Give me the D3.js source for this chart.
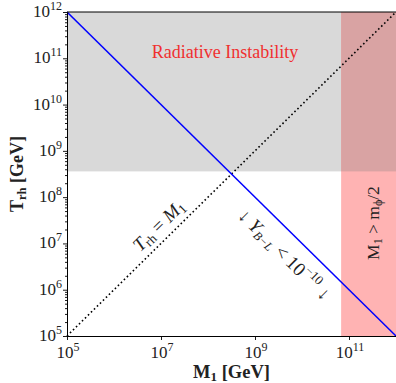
<!DOCTYPE html>
<html>
<head>
<meta charset="utf-8">
<script src="https://cdn.jsdelivr.net/npm/d3@7"></script>
<style>
  body { margin: 0; background: #fff; }
</style>
</head>
<body>
<svg id="chart" width="396" height="383"></svg>
<script>
// axis extents and ticks
var massDomain = [1e5, 1e12];
var tempDomain = [1e5, 1e12];
var xTickExp = [5, 7, 9, 11];
var yTickExp = [5, 6, 7, 8, 9, 10, 11, 12];

// shaded regions
var instabilityT = 3.6e8;   // lower edge of the radiative instability band
var kinematicM = 6.8e10;    // M1 > m_phi/2 starts here

// lines
var diagM = [1e5, 1e12];
var diagT = [1e5, 1e12];
var washoutM = [1e5, 1e12];
var washoutT = [1e12, 1e5];

var FONT = "'Liberation Serif', 'DejaVu Serif', 'Times New Roman', serif";

var svg = d3.select("#chart");
var margin = {left: 67, top: 12, right: 0, bottom: 47};
var W = 396, H = 383;

var x = d3.scaleLog().domain(massDomain).range([margin.left, W - margin.right]);
var y = d3.scaleLog().domain(tempDomain).range([H - margin.bottom, margin.top]);

var x0 = x.range()[0], x1 = x.range()[1], y0 = y.range()[0], y1 = y.range()[1];

// regions
svg.append("rect")
  .attr("x", x0).attr("y", y1)
  .attr("width", x1 - x0).attr("height", y(instabilityT) - y1)
  .attr("fill", "#d9d9d9");
svg.append("rect")
  .attr("x", x(kinematicM)).attr("y", y1)
  .attr("width", x1 - x(kinematicM)).attr("height", y0 - y1)
  .attr("fill", "#ffb3b3");
svg.append("rect")
  .attr("x", x(kinematicM)).attr("y", y1)
  .attr("width", x1 - x(kinematicM)).attr("height", y(instabilityT) - y1)
  .attr("fill", "#d9a3a3");

var line = d3.line().x(function(d) { return x(d[0]); }).y(function(d) { return y(d[1]); });

svg.append("path")
  .attr("d", line(d3.zip(diagM, diagT)))
  .attr("fill", "none").attr("stroke", "#000")
  .attr("stroke-width", 1.6).attr("stroke-dasharray", "1.6,2.6");

svg.append("path")
  .attr("d", line(d3.zip(washoutM, washoutT)))
  .attr("fill", "none").attr("stroke", "#0000ff")
  .attr("stroke-width", 1.6);

// axes
svg.append("g").attr("transform", "translate(0," + y0 + ")")
  .call(d3.axisBottom(x).tickValues(xTickExp.map(function(e) { return Math.pow(10, e); }))
    .tickFormat("").tickSize(4).tickSizeOuter(0));
var minorY = [];
for (var e = 5; e < 12; e++) for (var k = 2; k < 10; k++) minorY.push(k * Math.pow(10, e));
svg.append("g").attr("transform", "translate(" + x0 + ",0)")
  .call(d3.axisLeft(y).tickValues(minorY).tickFormat("").tickSize(2).tickSizeOuter(0));
svg.append("g").attr("transform", "translate(" + x0 + ",0)")
  .call(d3.axisLeft(y).tickValues(yTickExp.map(function(e) { return Math.pow(10, e); }))
    .tickFormat("").tickSize(4).tickSizeOuter(0));
svg.selectAll(".domain").attr("stroke", "#000").attr("stroke-width", 1);
svg.selectAll(".tick line").attr("stroke", "#000").attr("stroke-width", 0.9);

// frame top
svg.append("line").attr("x1", x0).attr("x2", x1).attr("y1", y1).attr("y2", y1)
  .attr("stroke", "#000").attr("stroke-width", 1);

function label(sel) {
  return sel.append("text").style("font-family", FONT).attr("fill", "#222");
}

// tick labels
xTickExp.forEach(function(e) {
  var t = label(svg).attr("x", x(Math.pow(10, e)) + 1).attr("y", y0 + 22)
    .attr("text-anchor", "middle").attr("font-size", 17);
  t.append("tspan").text("10");
  t.append("tspan").attr("dy", -7).attr("font-size", 12).text(e);
});
yTickExp.forEach(function(e) {
  var t = label(svg).attr("x", x0 - 5).attr("y", y(Math.pow(10, e)) + 5)
    .attr("text-anchor", "end").attr("font-size", 17);
  t.append("tspan").text("10");
  t.append("tspan").attr("dy", -7).attr("font-size", 12).text(e);
});

// axis titles
var xl = label(svg).attr("x", (x0 + x1) / 2).attr("y", 378)
  .attr("text-anchor", "middle").attr("font-size", 18.5).attr("font-weight", "bold");
xl.append("tspan").text("M");
xl.append("tspan").attr("dy", 3).attr("font-size", 13).text("1");
xl.append("tspan").attr("dy", -3).text(" [GeV]");

var yl = label(svg).attr("transform", "translate(23," + ((y0 + y1) / 2) + ") rotate(-90)")
  .attr("text-anchor", "middle").attr("font-size", 18).attr("font-weight", "bold");
yl.append("tspan").text("T");
yl.append("tspan").attr("dy", 3).attr("font-size", 12.5).text("rh");
yl.append("tspan").attr("dy", -3).text(" [GeV]");

// annotations
label(svg).attr("x", 225).attr("y", 58).attr("text-anchor", "middle")
  .attr("font-size", 18).attr("fill", "#f03030").text("Radiative Instability");

var ang = Math.atan2(y(1e12) - y(1e5), x(1e12) - x(1e5)) * 180 / Math.PI;

var a1 = label(svg).attr("transform", "translate(163,230) rotate(" + ang + ")")
  .attr("text-anchor", "middle").attr("font-size", 19);
a1.append("tspan").attr("font-style", "italic").text("T");
a1.append("tspan").attr("dy", 3).attr("font-size", 13).text("rh");
a1.append("tspan").attr("dy", -3).text(" = ");
a1.append("tspan").attr("font-style", "italic").text("M");
a1.append("tspan").attr("dy", 3).attr("font-size", 13).text("1");

var a2 = label(svg).attr("transform", "translate(280,259) rotate(" + (-ang) + ")")
  .attr("text-anchor", "middle").attr("font-size", 19);
a2.append("tspan").text("\u2193 ");
a2.append("tspan").attr("font-style", "italic").text("Y");
a2.append("tspan").attr("dy", 3).attr("font-size", 12).attr("font-style", "italic").text("B\u2212L");
a2.append("tspan").attr("dy", -3).text(" < 10");
a2.append("tspan").attr("dy", -8).attr("font-size", 13).text("\u221210");
a2.append("tspan").attr("dy", 8).text(" \u2193");

var a3 = label(svg).attr("transform", "translate(379,223) rotate(-90)")
  .attr("text-anchor", "middle").attr("font-size", 17.5);
a3.append("tspan").text("M");
a3.append("tspan").attr("dy", 3).attr("font-size", 12).text("1");
a3.append("tspan").attr("dy", -3).text(" > m");
a3.append("tspan").attr("dy", 3).attr("font-size", 12).text("\u03d5");
a3.append("tspan").attr("dy", -3).text("/2");
</script>
</body>
</html>
